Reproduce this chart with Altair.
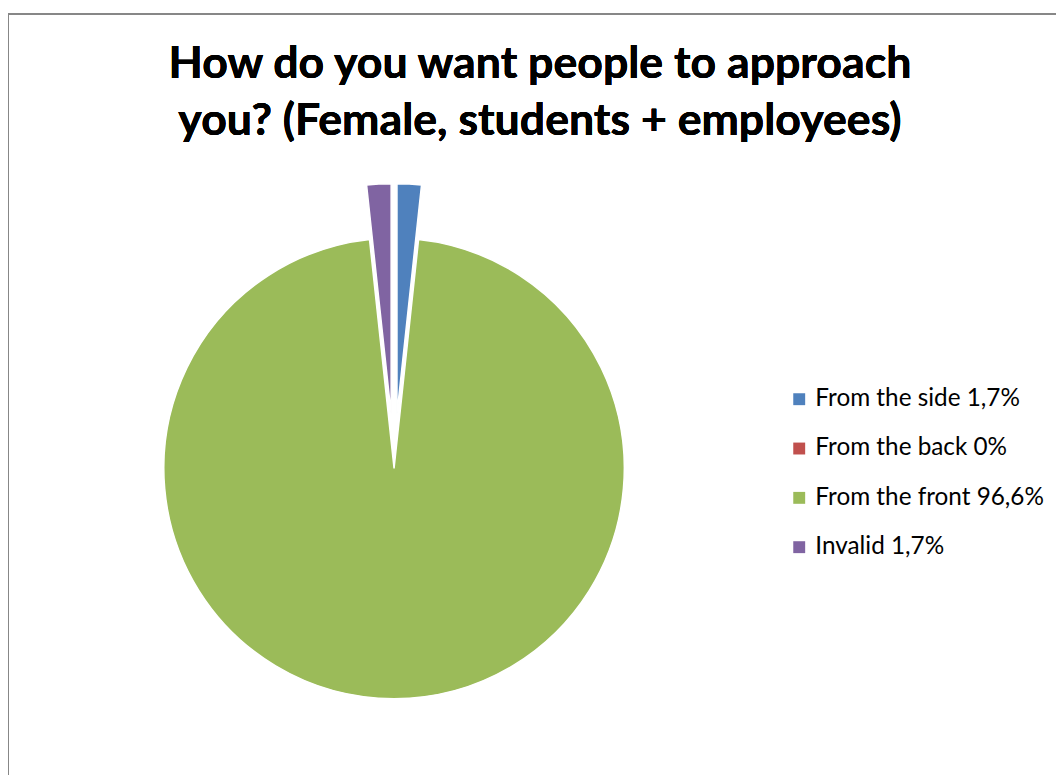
import altair as alt
import pandas as pd

CATEGORIES = ["From the side 1,7%", "From the back 0%", "From the front 96,6%", "Invalid 1,7%"]
VALUES = [1.7, 0.0, 96.6, 1.7]
EXPLODED = [1, 0, 0, 1]
COLORS = ["#4F81BD", "#C0504D", "#9BBB59", "#8064A2"]
TITLE_LINES = ["How do you want people to approach", "you? (Female, students + employees)"]

W, H = 1056, 767
CX, CY, R, EXPLODE = 389, 458, 232, 55

df = pd.DataFrame({
    "category": CATEGORIES,
    "value": VALUES,
    "explode": EXPLODED,
    "order": list(range(len(CATEGORIES))),
})

pie = (
    alt.Chart(df)
    .transform_window(cum="sum(value)", sort=[alt.SortField("order")], frame=[None, 0])
    .transform_joinaggregate(total="sum(value)")
    .transform_calculate(t0="2*PI*(datum.cum - datum.value)/datum.total")
    .transform_calculate(t1="2*PI*datum.cum/datum.total")
    .transform_calculate(mid="(datum.t0 + datum.t1)/2")
    .transform_calculate(px=f"{CX} + datum.explode*{EXPLODE}*sin(datum.mid)")
    .transform_calculate(py=f"{CY} - datum.explode*{EXPLODE}*cos(datum.mid)")
    .mark_arc(radius=R, stroke="white", strokeWidth=1.5)
    .encode(
        theta=alt.Theta("t0:Q", scale=None),
        theta2="t1:Q",
        x=alt.X("px:Q", scale=None),
        y=alt.Y("py:Q", scale=None),
        color=alt.Color(
            "category:N",
            scale=alt.Scale(domain=CATEGORIES, range=COLORS),
            legend=alt.Legend(
                title=None,
                orient="none",
                legendX=785,
                legendY=376,
                symbolType="square",
                symbolSize=144,
                symbolStrokeWidth=0,
                labelFontSize=24.5,
                labelFont="Lato",
                labelColor="#000000",
                labelOffset=4,
                rowPadding=24.7,
                padding=0,
                labelLimit=400,
            ),
        ),
        order=alt.Order("order:Q"),
    )
)

title = alt.Chart(df).mark_text(
    text=TITLE_LINES,
    font="Lato",
    fontWeight="bold",
    fontSize=45,
    lineHeight=57,
    align="center",
    baseline="alphabetic",
    color="#000000",
).encode(x=alt.value(536), y=alt.value(65))

border_left = alt.Chart(df).mark_rule(color="#878787", strokeWidth=1.5).encode(
    x=alt.value(0), y=alt.value(0), y2=alt.value(H)
)
border_top = alt.Chart(df).mark_rule(color="#878787", strokeWidth=1.5).encode(
    y=alt.value(0), x=alt.value(0), x2=alt.value(W)
)

chart = (
    alt.layer(pie, title, border_left, border_top)
    .properties(
        width=W,
        height=H,
        autosize="none",
        padding={"left": 0, "top": 3, "right": 0, "bottom": 0},
    )
    .configure_view(stroke=None)
)

chart.save("out.html", embed_options={"renderer": "svg", "actions": False})
